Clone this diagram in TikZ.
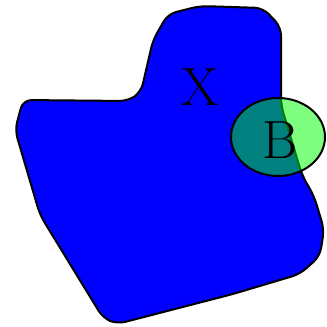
\documentclass[tikz,border=0pt]{standalone}
\definecolor{regionblue}{HTML}{0000FF}
\definecolor{setgreen}{HTML}{00FF00}

\begin{document}
\begin{tikzpicture}[
  x=0.3mm,
  y=-0.3mm,
  line join=round,
  region/.style={draw=black,fill=regionblue,line width=0.6mm,rounded corners=2.5mm},
  subset/.style={draw=black,fill=setgreen,fill opacity=0.5,line width=0.6mm},
  setlabel/.style={inner sep=0pt,font=\fontsize{46}{46}\selectfont}
]
  % Match the artwork frame.
  \useasboundingbox (0,0) rectangle (327,327);

  % Outline of the region X, clockwise from the top edge.
  \coordinate (t0) at (200,6);
  \coordinate (t1) at (263,8);
  \coordinate (t2) at (281,27);
  \coordinate (r0) at (281,105);
  \coordinate (r1) at (302,175);
  \coordinate (r2) at (314,196);
  \coordinate (r3) at (324,229);
  \coordinate (r4) at (320,256);
  \coordinate (b0) at (300,274);
  \coordinate (b1) at (233,294);
  \coordinate (b2) at (117,324);
  \coordinate (b3) at (103,318);
  \coordinate (l0) at (40,215);
  \coordinate (l1) at (15,130);
  \coordinate (l2) at (23,100);
  \coordinate (n0) at (128,101);
  \coordinate (n1) at (141,92);
  \coordinate (n2) at (153,40);
  \coordinate (n3) at (168,14);

  \draw[region] (t0) -- (t1) -- (t2) -- (r0) -- (r1) -- (r2) -- (r3) -- (r4)
    -- (b0) -- (b1) -- (b2) -- (b3) -- (l0) -- (l1) -- (l2)
    -- (n0) -- (n1) -- (n2) -- (n3) -- cycle;

  % The set B overlaps the right edge of X.
  \coordinate (bc) at (278,137);
  \draw[subset] (bc) ellipse[x radius=47,y radius=39];

  \node[setlabel] (X) at (200,87) {X};
  \node[setlabel] (B) at (280,140) {B};
\end{tikzpicture}
\end{document}
